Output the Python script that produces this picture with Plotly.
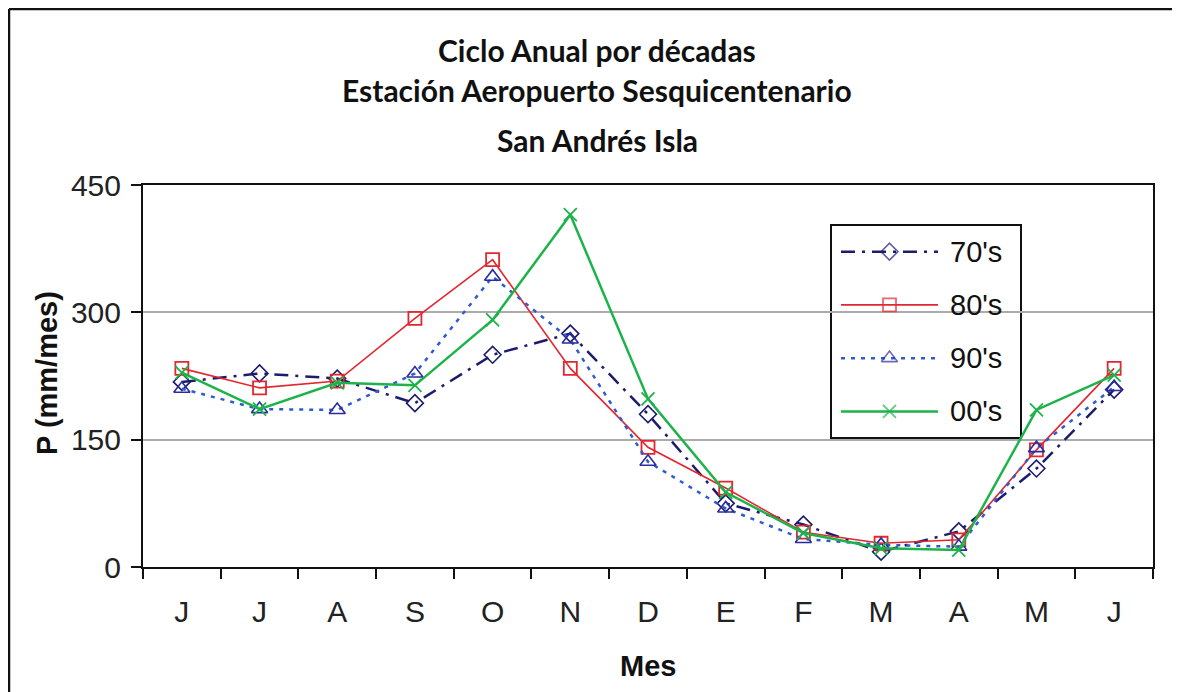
import plotly.graph_objects as go

# ---------------- data ----------------
months = ["J", "J", "A", "S", "O", "N", "D", "E", "F", "M", "A", "M", "J"]
series_names = ["70's", "80's", "90's", "00's"]
v70 = [218, 228, 222, 193, 250, 275, 180, 75, 50, 18, 42, 116, 209]
v80 = [234, 211, 219, 293, 362, 234, 141, 93, 41, 28, 32, 138, 234]
v90 = [210, 186, 185, 228, 342, 268, 124, 69, 33, 26, 24, 140, 212]
v00 = [229, 186, 217, 214, 291, 415, 198, 88, 40, 22, 20, 185, 226]
y_ticks = [0, 150, 300, 450]

title_lines = ["Ciclo Anual por décadas",
               "Estación Aeropuerto Sesquicentenario",
               "San Andrés Isla"]

# ---------------- layout geometry (page pixels; page body has an 8px margin) ----------------
OFF = 8
W, H = 1180 - OFF, 692 - OFF
L, R, T, B = 143 - OFF, 1153 - OFF, 185 - OFF, 567 - OFF

def px(x):
    return (x - OFF - L) / (R - L)

def py(y):
    return (B - (y - OFF)) / (B - T)

styles = [
    dict(line=dict(color="#1C1C6B", width=2.5, dash="14px,7px,3px,7px"),
         marker=dict(symbol="diamond-open", size=13, color="#1C1C6B", line=dict(width=1.6))),
    dict(line=dict(color="#E3262F", width=1.6),
         marker=dict(symbol="square-open", size=13, color="#E3262F", line=dict(width=1.8))),
    dict(line=dict(color="#2F5BD0", width=2.5, dash="4px,6px"),
         marker=dict(symbol="triangle-up-open", size=14, color="#2B2BA0", line=dict(width=1.6))),
    dict(line=dict(color="#1DB34A", width=2.5),
         marker=dict(symbol="x-thin-open", size=13, color="#1DB34A", line=dict(width=1.8, color="#1DB34A"))),
]

values = [v70, v80, v90, v00]
xpos = list(range(len(months)))

fig = go.Figure()
for name, vals, st in zip(series_names, values, styles):
    fig.add_trace(go.Scatter(x=xpos, y=vals, mode="lines+markers", name=name,
                             line=st["line"], marker=st["marker"], showlegend=False))

# ---------------- custom legend (long line samples), drawn in page-pixel overlay axes ----------------
leg_x0, leg_x1, leg_y0, leg_y1 = 831, 1021, 225, 438
sample_x0, sample_x1 = 841, 938
text_x = 948
n = len(series_names)
for i, (name, st) in enumerate(zip(series_names, styles)):
    yc = leg_y0 + (leg_y1 - leg_y0) * (i + 0.5) / n
    fig.add_trace(go.Scatter(
        x=[sample_x0, (sample_x0 + sample_x1) / 2, sample_x1], y=[yc, yc, yc],
        xaxis="x2", yaxis="y2", mode="lines+markers",
        line=st["line"],
        marker=dict(symbol=st["marker"]["symbol"], size=[0, st["marker"]["size"], 0],
                    color=st["marker"]["color"], line=st["marker"]["line"]),
        showlegend=False, hoverinfo="skip"))

annotations = []
for i, name in enumerate(series_names):
    yc = leg_y0 + (leg_y1 - leg_y0) * (i + 0.5) / n
    annotations.append(dict(x=text_x, y=yc, xref="x2", yref="y2", text=name,
                            showarrow=False, xanchor="left", yanchor="middle",
                            font=dict(family="Liberation Sans, Arial", size=29, color="#111")))

# title lines
title_y = [50, 90, 140]
for t, yy in zip(title_lines, title_y):
    annotations.append(dict(x=px(597), y=py(yy), xref="paper", yref="paper", text=t,
                            showarrow=False, xanchor="center", yanchor="middle",
                            font=dict(family="Lato", size=30, color="#111", weight="bold")))

# axis titles
annotations.append(dict(x=px(648), y=py(666), xref="paper", yref="paper", text="<b>Mes</b>",
                        showarrow=False, xanchor="center", yanchor="middle",
                        font=dict(family="Liberation Sans, Arial", size=29, color="#111")))
annotations.append(dict(x=px(47), y=py(373), xref="paper", yref="paper", text="<b>P (mm/mes)</b>",
                        showarrow=False, xanchor="center", yanchor="middle", textangle=-90,
                        font=dict(family="Liberation Sans, Arial", size=29, color="#111")))

shapes = [
    # legend box
    dict(type="rect", xref="x2", yref="y2", x0=leg_x0, x1=leg_x1, y0=leg_y0, y1=leg_y1,
         line=dict(color="#111", width=2), fillcolor="white", layer="below"),
    # outer frame (left and top edges)
    dict(type="line", xref="paper", yref="paper", x0=px(9), x1=px(9), y0=py(9), y1=py(700),
         line=dict(color="#111", width=2.5)),
    dict(type="line", xref="paper", yref="paper", x0=px(9), x1=px(1190), y0=py(9), y1=py(9),
         line=dict(color="#111", width=2.5)),
]

tickfont = dict(family="Liberation Sans, Arial", size=30, color="#222")

fig.update_layout(
    width=W, height=H,
    margin=dict(l=L, r=W - R, t=T, b=H - B, pad=0),
    paper_bgcolor="white", plot_bgcolor="white",
    showlegend=False,
    xaxis=dict(range=[-0.5, len(months) - 0.5], tickmode="array", tickvals=xpos, ticktext=months,
               ticks="", showgrid=False, zeroline=False,
               showline=True, linecolor="#111", linewidth=2, mirror=True,
               tickfont=tickfont, ticklabelstandoff=17,
               minor=dict(tickmode="array",
                          tickvals=[p - 0.5 for p in xpos] + [len(months) - 0.5],
                          ticks="outside", ticklen=10, tickwidth=2, tickcolor="#111",
                          showgrid=False)),
    yaxis=dict(range=[0, 450], tickmode="array", tickvals=y_ticks,
               ticks="outside", ticklen=10, tickwidth=2, tickcolor="#111",
               showgrid=True, gridcolor="#ABABAB", gridwidth=2, zeroline=False,
               showline=True, linecolor="#111", linewidth=2, mirror=True,
               tickfont=tickfont, ticklabelstandoff=4),
    xaxis2=dict(overlaying="x", range=[L + OFF, R + OFF], visible=False, fixedrange=True),
    yaxis2=dict(overlaying="y", range=[B + OFF, T + OFF], visible=False, fixedrange=True),
    annotations=annotations,
    shapes=shapes,
)

fig.write_html("out.html")
